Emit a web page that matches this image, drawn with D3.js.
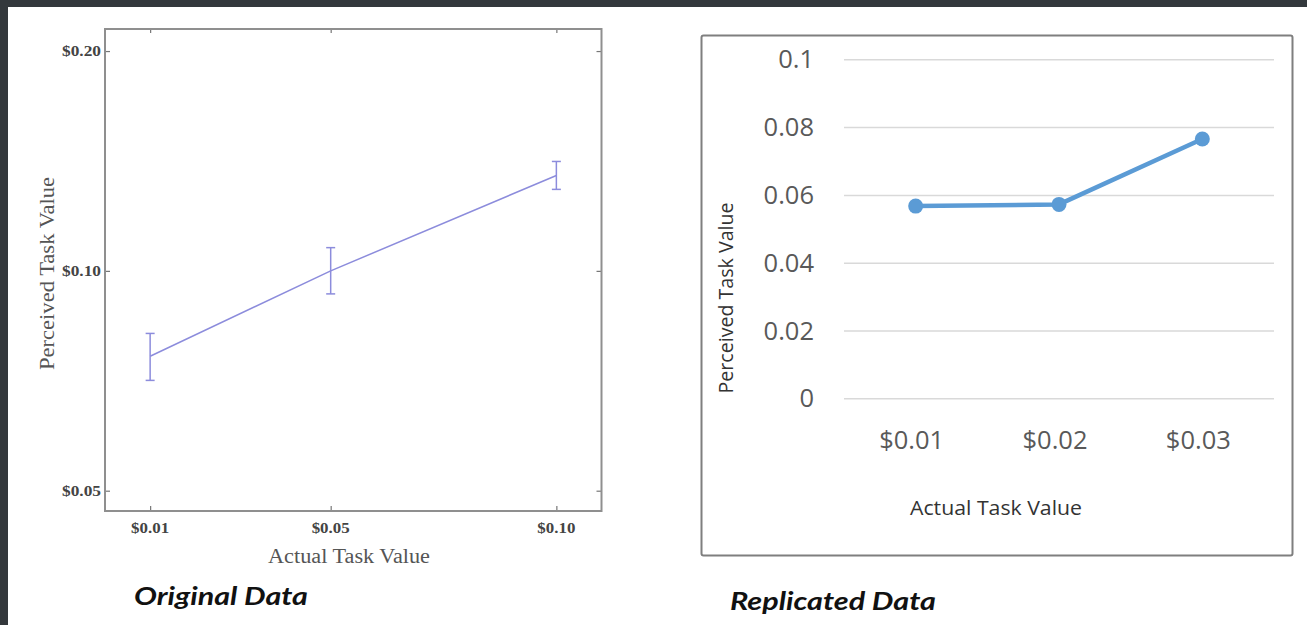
<!DOCTYPE html>
<html><head><meta charset="utf-8">
<script src="https://cdn.jsdelivr.net/npm/d3@7/dist/d3.min.js"></script>
<style>html,body{margin:0;padding:0;background:#fff;overflow:hidden}</style>
</head><body>
<svg id="c" width="1307" height="625"></svg>
<script>
// ---- Original data (left) ----
const origX = [0.01, 0.05, 0.10];
const origMean = [0.0764, 0.1000, 0.1351];
const origLow = [0.0708, 0.0930, 0.1293];
const origHigh = [0.0821, 0.1076, 0.1412];
const origXTicks = [0.01, 0.05, 0.10];
const origXTickLabels = ["$0.01", "$0.05", "$0.10"];
const origYTicks = [0.05, 0.10, 0.20];
const origYTickLabels = ["$0.05", "$0.10", "$0.20"];

// ---- Replicated data (right) ----
const repCategories = ["$0.01", "$0.02", "$0.03"];
const repValues = [0.0567, 0.0572, 0.0765];
const repYTicks = [0, 0.02, 0.04, 0.06, 0.08, 0.1];
const repYTickLabels = ["0", "0.02", "0.04", "0.06", "0.08", "0.1"];

const svg = d3.select("#c");
// dark border strips
svg.append("rect").attr("x",0).attr("y",0).attr("width",1307).attr("height",7).attr("fill","#33383c");
svg.append("rect").attr("x",0).attr("y",0).attr("width",8).attr("height",625).attr("fill","#33383c");

// ================= LEFT CHART =================
const L = {x0:105, x1:601.5, y0:29, y1:511};
const lx = d3.scaleLinear().domain([0, 0.11]).range([L.x0, L.x1]);
const ly = d3.scaleLog().domain([0.0469, 0.2144]).range([L.y1, L.y0]);
const gl = svg.append("g");
const serif = "'Liberation Serif','Times New Roman',serif";

function styleAxis(g){ g.select(".domain").remove(); g.selectAll("line").attr("stroke","#777").attr("stroke-width",1.2); g.selectAll("text").remove(); }
gl.append("g").attr("transform",`translate(0,${L.y1})`).call(d3.axisBottom(lx).tickValues(origXTicks).tickSize(-5)).call(styleAxis);
gl.append("g").attr("transform",`translate(0,${L.y0})`).call(d3.axisTop(lx).tickValues(origXTicks).tickSize(-4)).call(styleAxis);
gl.append("g").attr("transform",`translate(${L.x0},0)`).call(d3.axisLeft(ly).tickValues(origYTicks).tickSize(-5)).call(styleAxis);
gl.append("g").attr("transform",`translate(${L.x1},0)`).call(d3.axisRight(ly).tickValues(origYTicks).tickSize(-5)).call(styleAxis);
gl.append("rect").attr("x",L.x0).attr("y",L.y0).attr("width",L.x1-L.x0).attr("height",L.y1-L.y0)
  .attr("fill","none").attr("stroke","#8f8f8f").attr("stroke-width",2);

gl.selectAll(".xt").data(origXTicks).enter().append("text")
  .attr("x",d=>lx(d)).attr("y",L.y1+22).attr("text-anchor","middle")
  .attr("font-family",serif).attr("font-weight","bold").attr("font-size",15).attr("fill","#444")
  .attr("textLength",38).attr("lengthAdjust","spacingAndGlyphs")
  .text((d,i)=>origXTickLabels[i]);
gl.selectAll(".yt").data(origYTicks).enter().append("text")
  .attr("x",L.x0-4).attr("y",d=>ly(d)+5).attr("text-anchor","end")
  .attr("font-family",serif).attr("font-weight","bold").attr("font-size",15).attr("fill","#444")
  .attr("textLength",39).attr("lengthAdjust","spacingAndGlyphs")
  .text((d,i)=>origYTickLabels[i]);

gl.append("text").attr("x",349).attr("y",563).attr("text-anchor","middle")
  .attr("font-family",serif).attr("font-size",20.5).attr("fill","#555")
  .attr("textLength",162).attr("lengthAdjust","spacingAndGlyphs").text("Actual Task Value");
gl.append("text").attr("transform","translate(54,273.5) rotate(-90)").attr("text-anchor","middle")
  .attr("font-family",serif).attr("font-size",20.5).attr("fill","#555")
  .attr("textLength",193).attr("lengthAdjust","spacingAndGlyphs").text("Perceived Task Value");

const lineCol = "#8c8cdc";
gl.append("path").datum(origX.map((x,i)=>[x,origMean[i]]))
  .attr("d", d3.line().x(d=>lx(d[0])).y(d=>ly(d[1])))
  .attr("fill","none").attr("stroke",lineCol).attr("stroke-width",1.5);
const eb = gl.selectAll(".eb").data(origX).enter().append("g");
eb.append("line").attr("x1",d=>lx(d)).attr("x2",d=>lx(d)).attr("y1",(d,i)=>ly(origLow[i])).attr("y2",(d,i)=>ly(origHigh[i])).attr("stroke",lineCol).attr("stroke-width",1.5);
eb.append("line").attr("x1",d=>lx(d)-4.5).attr("x2",d=>lx(d)+4.5).attr("y1",(d,i)=>ly(origLow[i])).attr("y2",(d,i)=>ly(origLow[i])).attr("stroke",lineCol).attr("stroke-width",1.5);
eb.append("line").attr("x1",d=>lx(d)-4.5).attr("x2",d=>lx(d)+4.5).attr("y1",(d,i)=>ly(origHigh[i])).attr("y2",(d,i)=>ly(origHigh[i])).attr("stroke",lineCol).attr("stroke-width",1.5);

// ================= RIGHT CHART =================
const sans = "'Open Sans','Noto Sans',sans-serif";
const gr = svg.append("g");
gr.append("rect").attr("x",701.5).attr("y",35.5).attr("width",591).attr("height",520).attr("rx",2)
  .attr("fill","#fff").attr("stroke","#7f7f7f").attr("stroke-width",2);
const R = {x0:844, x1:1274, y0:59.3, y1:398.3};
const rx = d3.scalePoint().domain(repCategories).range([R.x0, R.x1]).padding(0.5);
const ry = d3.scaleLinear().domain([0, 0.1]).range([R.y1, R.y0]);

gr.append("g").attr("transform",`translate(${R.x0},0)`)
  .call(d3.axisLeft(ry).tickValues(repYTicks).tickSize(-(R.x1-R.x0)).tickFormat(""))
  .call(g=>{ g.select(".domain").remove(); g.selectAll("line").attr("stroke","#d9d9d9").attr("stroke-width",1.5); });

gr.selectAll(".ryt").data(repYTicks).enter().append("text")
  .attr("x",814).attr("y",d=>ry(d)+9).attr("text-anchor","end")
  .attr("font-family",sans).attr("font-size",25.5).attr("fill","#595959")
  .text((d,i)=>repYTickLabels[i]);
gr.selectAll(".rxt").data(repCategories).enter().append("text")
  .attr("x",d=>rx(d)-4).attr("y",449).attr("text-anchor","middle")
  .attr("font-family",sans).attr("font-size",25.5).attr("fill","#595959")
  .text(d=>d);

gr.append("path").datum(repCategories.map((c,i)=>[c,repValues[i]]))
  .attr("d", d3.line().x(d=>rx(d[0])).y(d=>ry(d[1])))
  .attr("fill","none").attr("stroke","#5b9bd5").attr("stroke-width",4.5).attr("stroke-linejoin","round");
gr.selectAll(".pt").data(repCategories).enter().append("circle")
  .attr("cx",d=>rx(d)).attr("cy",(d,i)=>ry(repValues[i])).attr("r",7.5).attr("fill","#5b9bd5");

gr.append("text").attr("x",996).attr("y",515).attr("text-anchor","middle")
  .attr("font-family",sans).attr("font-size",19.5).attr("fill","#333")
  .attr("textLength",172).attr("lengthAdjust","spacingAndGlyphs").text("Actual Task Value");
gr.append("text").attr("transform","translate(733,298) rotate(-90)").attr("text-anchor","middle")
  .attr("font-family",sans).attr("font-size",19.5).attr("fill","#333")
  .attr("textLength",191).attr("lengthAdjust","spacingAndGlyphs").text("Perceived Task Value");

// captions
const capFont = "Lato,'Open Sans',sans-serif";
svg.append("text").attr("x",134).attr("y",605)
  .attr("font-family",capFont).attr("font-weight","bold").attr("font-style","italic").attr("font-size",25).attr("fill","#111")
  .attr("textLength",174).attr("lengthAdjust","spacingAndGlyphs").text("Original Data");
svg.append("text").attr("x",730).attr("y",610)
  .attr("font-family",capFont).attr("font-weight","bold").attr("font-style","italic").attr("font-size",25).attr("fill","#111")
  .attr("textLength",206).attr("lengthAdjust","spacingAndGlyphs").text("Replicated Data");
</script>
</body></html>
